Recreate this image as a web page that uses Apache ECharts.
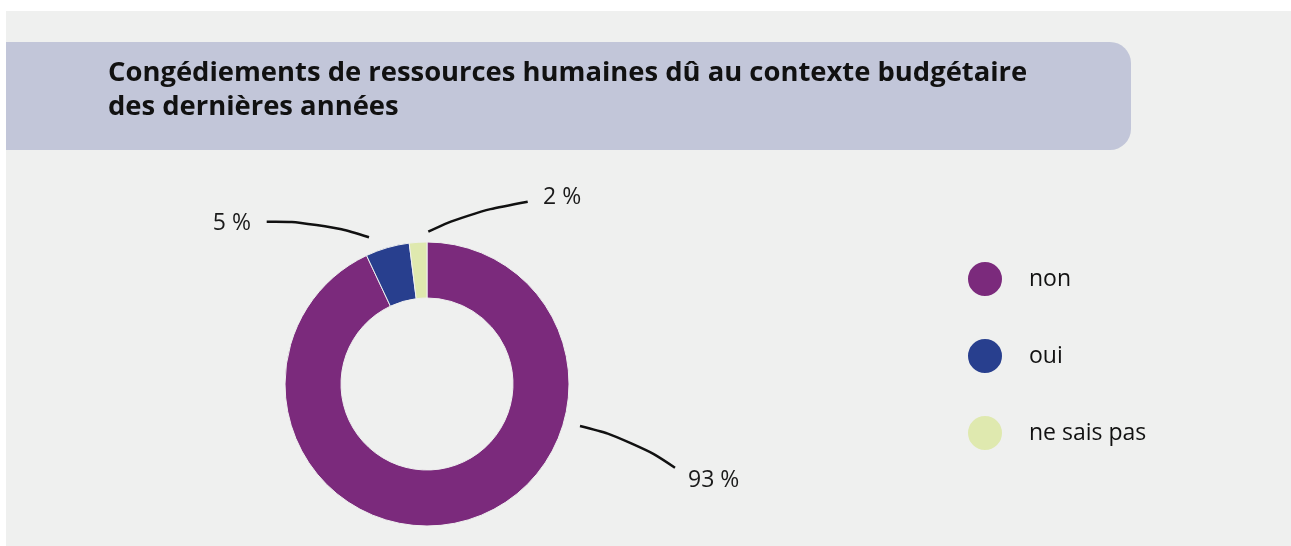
<!DOCTYPE html>
<html lang="fr">
<head>
<meta charset="utf-8">
<title>Congédiements de ressources humaines</title>
<script src="https://cdn.jsdelivr.net/npm/echarts@6/dist/echarts.min.js"></script>
<style>
  html, body { margin: 0; padding: 0; background: #ffffff; }
  #chart { width: 1291px; height: 546px; }
</style>
</head>
<body>
<div id="chart"></div>
<script>
// Answers and their shares (%)
const categories = ['non', 'oui', 'ne sais pas'];
const shares = [93, 5, 2];
const sliceColors = ['#7b2a7c', '#283f8e', '#dfe9af'];

const titleText = 'Congédiements de ressources humaines dû au contexte budgétaire\ndes dernières années';

// Callout placement: label anchor and the curved leader (start, bend, end) pointing to the ring
const callouts = [
  { x: 688, y: 480, align: 'left',  line: [[580, 426], [633, 439.5], [675, 467.7]] },
  { x: 251, y: 223, align: 'right', line: [[369, 237.3], [317, 221.3], [266.7, 221.7]] },
  { x: 543, y: 197, align: 'left',  line: [[428.3, 231.7], [467, 213.3], [527.7, 201.7]] }
];

const FONT = '"Open Sans", "Noto Sans", sans-serif';

const chart = echarts.init(document.getElementById('chart'), null, { renderer: 'canvas' });

chart.setOption({
  animation: false,
  backgroundColor: '#ffffff',
  graphic: [
    {
      type: 'rect', z: -10, silent: true,
      shape: { x: 6, y: 11, width: 1285, height: 535 },
      style: { fill: '#eff0ef' }
    },
    {
      type: 'rect', z: -9, silent: true,
      shape: { x: 6, y: 42, width: 1125, height: 108, r: [0, 21, 21, 0] },
      style: { fill: '#c2c6d9' }
    }
  ],
  title: {
    text: titleText,
    left: 108,
    top: 56,
    padding: 0,
    textStyle: {
      fontFamily: FONT,
      fontSize: 27.4,
      fontWeight: 'bold',
      color: '#111111',
      lineHeight: 34
    }
  },
  legend: {
    orient: 'vertical',
    left: 966,
    top: 260,
    padding: 0,
    icon: 'circle',
    itemWidth: 36,
    itemHeight: 36,
    itemGap: 39,
    selectedMode: false,
    data: categories,
    textStyle: {
      fontFamily: FONT,
      fontSize: 23,
      color: '#111111',
      padding: [0, 0, 0, 21]
    }
  },
  series: [
    {
      type: 'pie',
      center: [427, 384],
      radius: [86, 142],
      startAngle: 90,
      clockwise: true,
      avoidLabelOverlap: false,
      emphasis: { disabled: true },
      itemStyle: { borderColor: '#eff0ef', borderWidth: 1 },
      data: categories.map((name, i) => ({
        name,
        value: shares[i],
        itemStyle: { color: sliceColors[i] }
      })),
      label: {
        show: true,
        position: 'outside',
        formatter: '{c} %',
        fontFamily: FONT,
        fontSize: 23,
        color: '#1a1a1a'
      },
      labelLine: {
        show: true,
        smooth: 0.5,
        lineStyle: { color: '#111111', width: 2.5, cap: 'butt' }
      },
      labelLayout: function (params) {
        const c = callouts[params.dataIndex];
        return {
          x: c.x,
          y: c.y,
          align: c.align,
          verticalAlign: 'middle',
          labelLinePoints: c.line
        };
      }
    }
  ]
});
</script>
</body>
</html>
